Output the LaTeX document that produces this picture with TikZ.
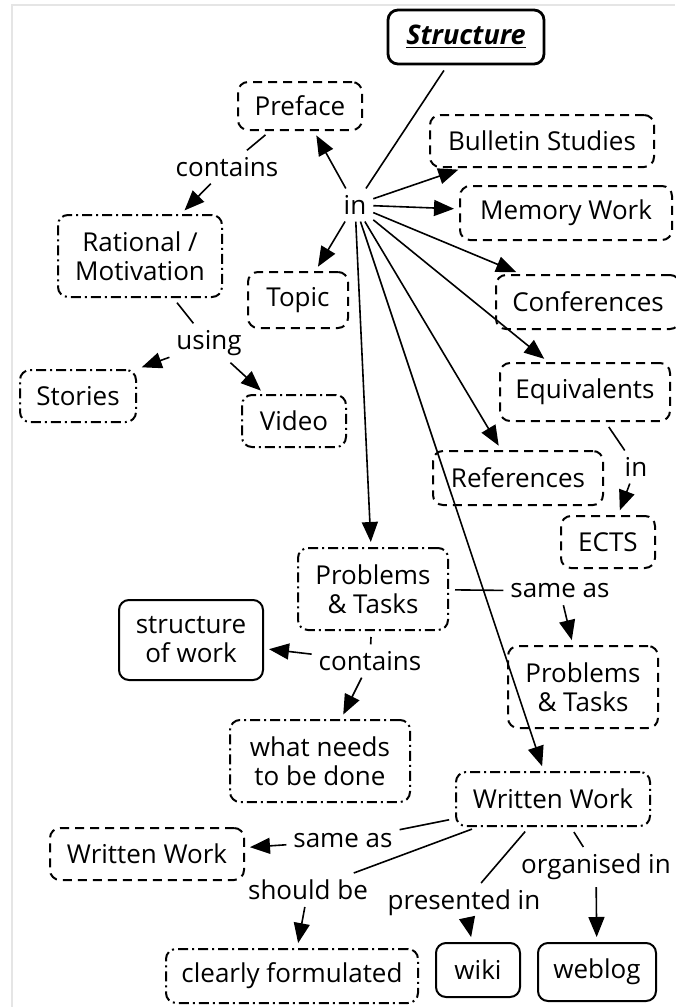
\documentclass[tikz,border=0pt]{standalone}
\usepackage{fontspec}
\setmainfont{Open Sans}
\usetikzlibrary{arrows.meta, positioning}

\begin{document}
\begin{tikzpicture}[x=0.5pt, y=-0.5pt, font=\fontsize{13}{14.5}\selectfont,
	every node/.style={align=center, inner sep=2pt, rounded corners=5pt, line width=1pt},
	solidbox/.style={draw},
	dashbox/.style={draw, dash pattern=on 4.5pt off 3pt},
	dotbox/.style={draw, dash pattern=on 5pt off 2pt on 1pt off 2pt},
	lbl/.style={inner sep=3pt},
	link/.style={line width=0.8pt, shorten <=3pt},
	arr/.style={line width=0.8pt, -{Triangle[length=10pt, width=8pt]}, shorten >=2.5pt}]
	\useasboundingbox (0,0) rectangle (675,1007);
	\draw[gray!20, line width=0.8pt] (12,1007) -- (12,5) -- (675,5);

	\node[solidbox, line width=1.4pt, minimum width=78pt, minimum height=27pt,
		font=\fontsize{13.5}{14.5}\selectfont\bfseries\itshape] (structure) at (466,37) {\underline{Structure}};
	\node[dashbox, minimum width=62pt, minimum height=24pt] (preface) at (300,106) {Preface};
	\node[lbl] (contains) at (227,167) {contains};
	\node[lbl] (in) at (355,205) {in};
	\node[dashbox, minimum width=112pt, minimum height=26pt] (bulletin) at (542,141) {Bulletin Studies};
	\node[dashbox, minimum width=106pt, minimum height=27pt] (memory) at (566,213) {Memory Work};
	\node[dotbox, minimum width=82pt, minimum height=41pt] (rational) at (140,256) {Rational /\\Motivation};
	\node[dashbox, minimum width=50pt, minimum height=28pt] (topic) at (298,300) {Topic};
	\node[dashbox, minimum width=92pt, minimum height=27pt] (conf) at (588,302) {Conferences};
	\node[lbl] (using) at (209,343) {using};
	\node[dotbox, minimum width=58pt, minimum height=26pt] (stories) at (78,396) {Stories};
	\node[dotbox, minimum width=52pt, minimum height=26pt] (video) at (294,421) {Video};
	\node[dashbox, minimum width=85pt, minimum height=29pt] (equiv) at (585,392) {Equivalents};
	\node[dashbox, minimum width=85pt, minimum height=27pt] (refs) at (518,478) {References};
	\node[lbl] (inects) at (636,467) {in};
	\node[dashbox, minimum width=47pt, minimum height=26pt] (ects) at (608,542) {ECTS};
	\node[dotbox, minimum width=75pt, minimum height=41pt] (prob) at (373,589) {Problems\\\& Tasks};
	\node[lbl] (sameprob) at (560,591) {same as};
	\node[solidbox, minimum width=72pt, minimum height=40pt] (swork) at (191,640) {structure\\of work};
	\node[lbl] (containsprob) at (370,661) {contains};
	\node[dashbox, minimum width=75pt, minimum height=41pt] (probb) at (583,687) {Problems\\\& Tasks};
	\node[dotbox, minimum width=90pt, minimum height=41pt] (whatneeds) at (320,761) {what needs\\to be done};
	\node[dotbox, minimum width=97pt, minimum height=27pt] (written) at (553,799) {Written Work};
	\node[dashbox, minimum width=97pt, minimum height=26pt] (writtenb) at (147,854) {Written Work};
	\node[lbl] (samewritten) at (343,841) {same as};
	\node[lbl] (organised) at (596,867) {organised in};
	\node[lbl] (shouldbe) at (308,890) {should be};
	\node[lbl] (presented) at (464,903) {presented in};
	\node[dotbox, minimum width=126pt, minimum height=27pt] (clearly) at (292,976) {clearly formulated};
	\node[solidbox, minimum width=42pt, minimum height=27pt] (wiki) at (478,970) {wiki};
	\node[solidbox, minimum width=59pt, minimum height=29pt] (weblog) at (597,972) {weblog};

	\draw[link] (structure) -- (in);
	\foreach \t in {preface, bulletin, memory, topic, conf, equiv, refs, prob, written}
		\draw[arr] (in) -- (\t);
	\draw[link] (preface) -- (contains);
	\draw[arr] (contains) -- (rational);
	\draw[link] (rational) -- (using);
	\draw[arr] (using) -- (stories.north east);
	\draw[arr] (using) -- (video);
	\draw[link] (equiv) -- (inects);
	\draw[arr] (inects) -- (ects);
	\draw[link] (prob) -- (sameprob);
	\draw[arr] (sameprob) -- (probb);
	\draw[link] (prob) -- (containsprob);
	\draw[arr] (containsprob) -- (swork);
	\draw[arr] (containsprob) -- (whatneeds);
	\draw[link] (written) -- (samewritten);
	\draw[arr] (samewritten) -- (writtenb);
	\draw[link] (written) -- (shouldbe);
	\draw[arr] (shouldbe) -- (clearly);
	\draw[link] (written) -- (presented);
	\draw[arr] (presented) -- (wiki);
	\draw[link] (written) -- (organised);
	\draw[arr] (organised) -- (weblog);
\end{tikzpicture}
\end{document}
